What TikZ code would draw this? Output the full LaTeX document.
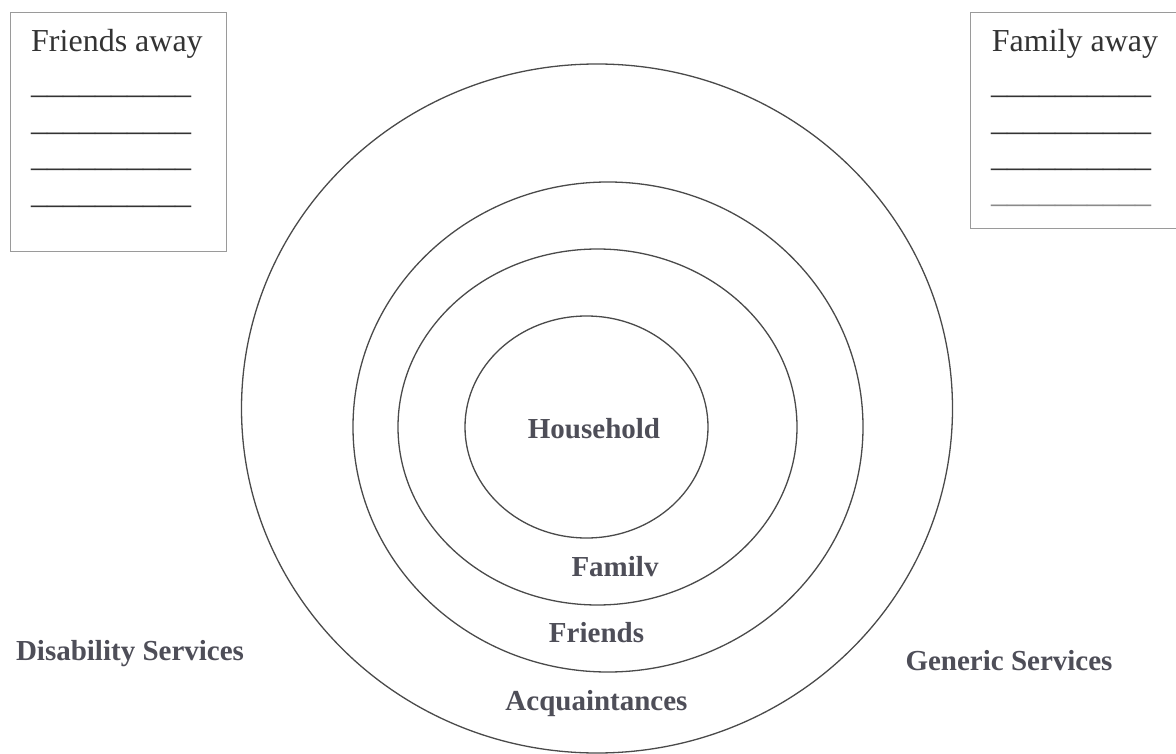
\documentclass[tikz,border=0pt]{standalone}
\usepackage{fontspec}
\setmainfont{Liberation Serif}
\definecolor{ringgray}{HTML}{4A4A4A}
\definecolor{boxgray}{HTML}{9A9A9A}
\definecolor{lblgray}{HTML}{4E4E58}
\definecolor{txtgray}{HTML}{333333}
\definecolor{lightline}{HTML}{8A8A8A}
\begin{document}
\begin{tikzpicture}[x=1pt,y=-1pt,
  ring/.style={draw=ringgray, line width=1.3pt},
  boxframe/.style={draw=boxgray, line width=1.5pt},
  lbl/.style={anchor=base, inner sep=0pt, text=lblgray, font=\fontsize{29}{34}\selectfont\bfseries},
  boxtitle/.style={anchor=base west, inner sep=0pt, text=txtgray, font=\fontsize{32}{38}\selectfont},
  blank/.style={anchor=base west, inner sep=0pt, text=txtgray, font=\fontsize{32}{38}\selectfont}]
\useasboundingbox[fill=white] (0,0) rectangle (1176,754);

% rings
\draw[ring] (597,408.5) ellipse [x radius=355.5pt, y radius=344.5pt];
\draw[ring] (608,427) ellipse [x radius=255pt, y radius=245pt];
\draw[ring] (597.5,427) ellipse [x radius=199.5pt, y radius=178pt];
\draw[ring] (586.5,427) ellipse [x radius=121.5pt, y radius=111pt];

% ring labels
\node[lbl] (household) at (594,438) {Household};
\node[lbl] (family) at (615,576) {Familv};
\node[lbl] (friends) at (596.5,642.5) {Friends};
\node[lbl] (acq) at (596.5,710.5) {Acquaintances};
\node[lbl] (disab) at (130,660.5) {Disability Services};
\node[lbl] (generic) at (1009,670) {Generic Services};

% Friends away box
\draw[boxframe] (10.7,12.3) rectangle (226.7,251.7);
\node[boxtitle] (fatitle) at (31,51.7) {Friends away};
\node[blank] (fa1) at (31,94) {\_\_\_\_\_\_\_\_\_\_};
\node[blank] (fa2) at (31,131) {\_\_\_\_\_\_\_\_\_\_};
\node[blank] (fa3) at (31,167) {\_\_\_\_\_\_\_\_\_\_};
\node[blank] (fa4) at (31,204) {\_\_\_\_\_\_\_\_\_\_};

% Family away box (cut by the right edge)
\draw[boxframe] (1177,12.3) -- (970.7,12.3) -- (970.7,228.3) -- (1177,228.3);
\node[boxtitle] (fmtitle) at (991.7,51.7) {Family away};
\node[blank] (fm1) at (991,94) {\_\_\_\_\_\_\_\_\_\_};
\node[blank] (fm2) at (991,131) {\_\_\_\_\_\_\_\_\_\_};
\node[blank] (fm3) at (991,167) {\_\_\_\_\_\_\_\_\_\_};
\node[blank, text=lightline] (fm4) at (991,203) {\_\_\_\_\_\_\_\_\_\_};
\end{tikzpicture}
\end{document}
